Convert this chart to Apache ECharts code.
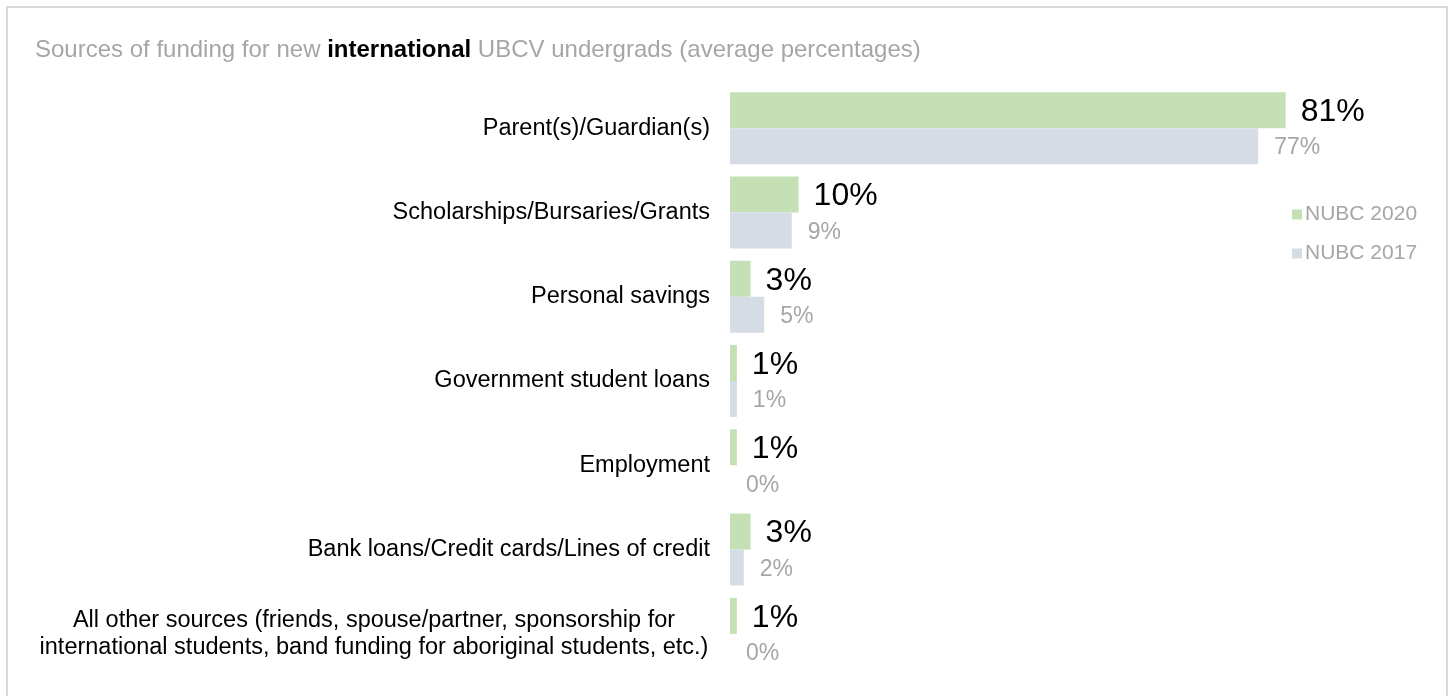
<!DOCTYPE html>
<html>
<head>
<meta charset="utf-8">
<title>Sources of funding for new international UBCV undergrads</title>
<script src="https://cdn.jsdelivr.net/npm/echarts@6/dist/echarts.min.js"></script>
<style>
  html, body { margin: 0; padding: 0; background: #ffffff; }
  #chart { width: 1450px; height: 696px; }
</style>
</head>
<body>
<div id="chart"></div>
<script>
// Funding sources, listed top to bottom
const categories = [
  'Parent(s)/Guardian(s)',
  'Scholarships/Bursaries/Grants',
  'Personal savings',
  'Government student loans',
  'Employment',
  'Bank loans/Credit cards/Lines of credit',
  'All other sources (friends, spouse/partner, sponsorship for\ninternational students, band funding for aboriginal students, etc.)'
];

// Average share of funding (%) by survey year
const nubc2020 = [81, 10, 3, 1, 1, 3, 1];
const nubc2017 = [77, 9, 5, 1, 0, 2, 0];

const seriesNames = ['NUBC 2020', 'NUBC 2017'];

const FONT = '"Liberation Sans", Arial, Helvetica, sans-serif';
const LABEL_SIZE = 23.5;

const chart = echarts.init(document.getElementById('chart'), null, { renderer: 'canvas' });

chart.setOption({
  backgroundColor: '#ffffff',
  animation: false,
  textStyle: { fontFamily: FONT },
  graphic: [{
    type: 'rect',
    shape: { x: 7, y: 7, width: 1440, height: 700 },
    style: { fill: 'none', stroke: '#d9d9d9', lineWidth: 2 },
    silent: true
  }],
  title: {
    left: 30,
    top: 33,
    text: '{a|Sources of funding for new }{b|international}{a| UBCV undergrads (average percentages)}',
    textStyle: {
      fontWeight: 'normal',
      rich: {
        a: { fontFamily: FONT, fontSize: 24, color: '#a6a6a6', fontWeight: 'normal' },
        b: { fontFamily: FONT, fontSize: 24, color: '#000000', fontWeight: 'bold' }
      }
    }
  },
  legend: {
    orient: 'vertical',
    left: 1287,
    top: 199,
    itemWidth: 10,
    itemHeight: 10,
    itemGap: 18,
    icon: 'rect',
    data: seriesNames,
    textStyle: { fontFamily: FONT, fontSize: 21, color: '#a6a6a6', padding: [0, 0, 0, -2] }
  },
  grid: { left: 730, right: 34, top: 86, bottom: 20, containLabel: false },
  xAxis: {
    type: 'value',
    min: 0,
    max: 100,
    show: false
  },
  yAxis: {
    type: 'category',
    inverse: true,
    data: categories,
    axisLine: { show: false },
    axisTick: { show: false },
    splitLine: { show: false },
    axisLabel: {
      margin: 20,
      fontFamily: FONT,
      fontSize: LABEL_SIZE,
      lineHeight: 27,
      color: '#000000',
      align: 'right',
      // multi-line labels are centred line by line inside a right-aligned block
      formatter: function (value) {
        if (value.indexOf('\n') < 0) return value;
        return value.split('\n').map(function (line) { return '{m|' + line + '}'; }).join('\n');
      },
      rich: {
        m: {
          width: 672,
          align: 'center',
          fontFamily: FONT,
          fontSize: LABEL_SIZE,
          lineHeight: 27,
          color: '#000000'
        }
      }
    }
  },
  series: [
    {
      name: seriesNames[0],
      type: 'bar',
      data: nubc2020,
      barWidth: 36,
      barGap: '0%',
      itemStyle: { color: '#c5e0b4' },
      label: {
        show: true,
        position: 'right',
        distance: 15,
        formatter: '{c}%',
        fontFamily: FONT,
        fontSize: 32,
        color: '#000000',
        offset: [0, 2]
      }
    },
    {
      name: seriesNames[1],
      type: 'bar',
      data: nubc2017,
      barWidth: 36,
      barGap: '0%',
      itemStyle: { color: '#d6dce5' },
      label: {
        show: true,
        position: 'right',
        distance: 16,
        formatter: '{c}%',
        fontFamily: FONT,
        fontSize: 23,
        color: '#a6a6a6',
        offset: [0, 2]
      }
    }
  ]
});
</script>
</body>
</html>
